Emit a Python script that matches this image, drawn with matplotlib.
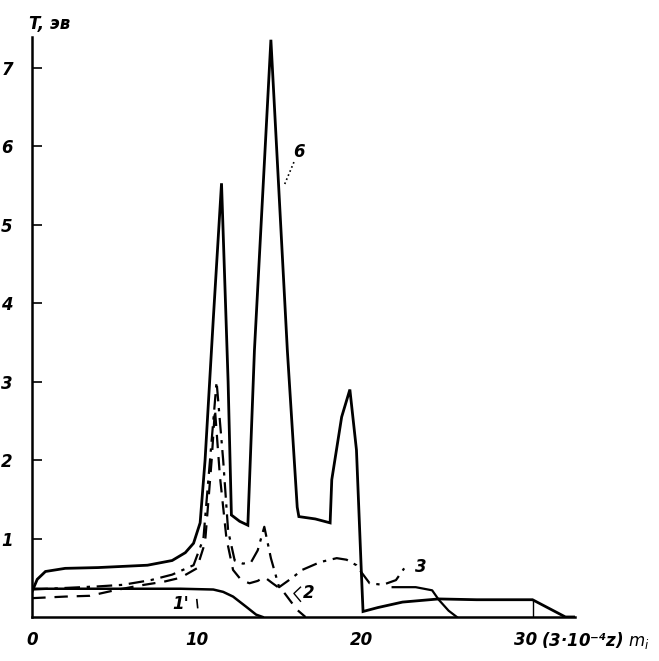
import numpy as np
import matplotlib.pyplot as plt

# curve 6 (thick solid)
x6 = [0, 0.3, 0.8, 2, 4, 7, 8.5, 9.3, 9.8, 10.2, 10.5, 11.0, 11.5, 11.9, 12.1, 12.6, 13.1,
      13.5, 14.5, 15.5, 16.1, 16.2, 17.2, 18.1, 18.2, 18.8, 19.3, 19.7, 20.0, 20.1,
      21.0, 22.5, 24.7, 27.0, 30.4, 31.4, 32.4, 33.0]
y6 = [0.33, 0.48, 0.58, 0.62, 0.63, 0.66, 0.72, 0.82, 0.94, 1.2, 2.0, 3.8, 5.53, 3.0, 1.3, 1.22, 1.17,
      3.4, 7.36, 3.4, 1.4, 1.28, 1.25, 1.2, 1.75, 2.55, 2.9, 2.13, 0.56, 0.07,
      0.12, 0.19, 0.23, 0.22, 0.22, 0.11, 0.0, 0.0]

# curve 3 (dash-dot)
x3 = [0, 2, 4, 5.5, 7.2, 8.5, 9.8, 10.4, 10.8, 11.2, 11.6, 11.9, 12.3, 12.8, 13.3, 13.7, 14.1,
      14.5, 15.0, 15.8, 16.4, 17.5, 18.5, 19.1, 19.7, 20.0, 20.5, 21.3, 22.1, 22.6]
y3 = [0.35, 0.37, 0.39, 0.41, 0.47, 0.54, 0.66, 1.0, 2.0, 3.0, 2.0, 1.1, 0.72, 0.68, 0.7, 0.85, 1.15,
      0.75, 0.38, 0.5, 0.6, 0.7, 0.75, 0.73, 0.66, 0.57, 0.43, 0.41, 0.47, 0.62]
x3b = [21.9, 23.3, 24.3, 24.7, 25.3, 25.8]
y3b = [0.38, 0.38, 0.34, 0.22, 0.08, 0.0]

# curve 2 (dashed)
x2 = [0, 2, 3.5, 5, 6.5, 8, 9, 10, 10.5, 10.9, 11.1, 11.4, 11.8, 12.2, 12.7, 13.2, 13.7, 14.1,
      14.6, 15.2, 15.7, 16.1, 16.6]
y2 = [0.24, 0.26, 0.27, 0.34, 0.4, 0.45, 0.5, 0.62, 0.95, 2.0, 2.65, 1.8, 1.0, 0.6, 0.47, 0.43, 0.46, 0.51,
      0.43, 0.34, 0.2, 0.09, 0.0]

# curve 1 (solid)
x1 = [0, 3, 6, 9, 11.0, 11.6, 12.2, 13.0, 13.6, 14.0]
y1 = [0.36, 0.36, 0.36, 0.36, 0.35, 0.32, 0.26, 0.13, 0.03, 0.0]

boundary_x = 30.4
boundary_top = 0.22

yticks = [1, 2, 3, 4, 5, 6, 7]
xticks = [0, 10, 20, 30]

fig = plt.figure(figsize=(6.59, 6.61), dpi=100)
ax = fig.add_axes([0.049, 0.0666, 0.824, 0.878])

lab = dict(fontstyle='italic', fontweight='bold', family='DejaVu Sans', fontsize=12)

ax.plot(x6, y6, color='black', lw=2.0, solid_joinstyle='miter')
ax.plot(x3, y3, color='black', lw=1.6, linestyle=(0, (7, 3, 1.5, 3)))
ax.plot(x3b, y3b, color='black', lw=1.6)
ax.plot(x2, y2, color='black', lw=1.6, linestyle=(0, (6, 4)))
ax.plot(x1, y1, color='black', lw=1.8)
ax.vlines(boundary_x, 0, boundary_top, color='black', lw=1.0)

ax.set_xlim(0, 33)
ax.set_ylim(0, 7.4)
for s in ['top', 'right']:
    ax.spines[s].set_visible(False)
for s in ['left', 'bottom']:
    ax.spines[s].set_linewidth(1.8)

ax.set_yticks(yticks)
ax.set_yticklabels([str(v) for v in yticks], **lab)
ax.tick_params(axis='y', direction='in', length=7, width=1.2, pad=14)
ax.set_xticks(xticks)
ax.set_xticklabels([str(v) for v in xticks], **lab)
ax.tick_params(axis='x', length=0, pad=10)

ax.text(-0.2, 7.45, 'T, эв', ha='left', va='bottom', clip_on=False, **lab)
ax.text(30.9, -0.17, '(3·10⁻⁴z) $m_i$', ha='left', va='top', clip_on=False, **lab)

# curve labels
ax.text(16.2, 5.93, '6', ha='center', va='center', **lab)
ax.plot([15.9, 15.3], [5.8, 5.5], color='black', lw=1.2, linestyle=':')
ax.text(23.6, 0.64, '3', ha='center', va='center', **lab)
ax.text(16.8, 0.3, '2', ha='center', va='center', **lab)
ax.plot([16.3, 15.9, 16.3], [0.38, 0.3, 0.2], color='black', lw=1.0)
ax.text(9.0, 0.17, "1'", ha='center', va='center', **lab)
ax.plot([10.0, 10.05], [0.22, 0.12], color='black', lw=1.2)

fig.savefig('out.png', dpi=100, facecolor='white')
